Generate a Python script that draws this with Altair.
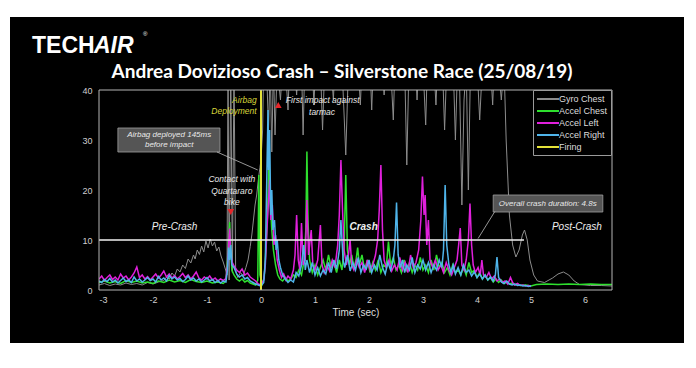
import altair as alt
import pandas as pd

# ---------------- data ----------------
GYRO_CHEST = [(-3.00,1.0),(-2.90,1.3),(-2.80,0.9),(-2.70,1.2),(-2.60,1.0),(-2.50,1.4),(-2.40,1.1),(-2.30,1.3),
    (-2.20,1.0),(-2.10,1.5),(-2.00,1.2),(-1.90,1.6),(-1.80,1.9),(-1.75,2.6),(-1.70,2.2),(-1.65,3.4),(-1.60,2.8),
    (-1.55,4.2),(-1.50,3.6),(-1.45,5.0),(-1.40,4.3),(-1.35,6.2),(-1.30,5.4),(-1.25,7.0),(-1.22,6.2),(-1.18,8.0),
    (-1.14,7.1),(-1.10,8.8),(-1.06,7.6),(-1.02,9.8),(-0.98,8.4),(-0.94,10.2),(-0.90,8.8),(-0.86,9.6),(-0.82,7.8),
    (-0.78,8.6),(-0.74,6.8),(-0.70,5.6),(-0.66,4.2),(-0.63,3.0),(-0.61,45),(-0.59,2.0),(-0.56,45),(-0.53,3.5),
    (-0.50,45),(-0.47,4.0),(-0.43,2.5),(-0.38,3.5),(-0.33,2.8),(-0.28,4.5),(-0.24,6.0),(-0.20,8.7),(-0.17,11),
    (-0.14,14),(-0.11,17),(-0.08,19),(-0.05,22),(-0.02,24.5),(0.00,26),(0.03,32),(0.05,45),(0.10,45),(0.14,32),
    (0.17,45),(0.20,27.6),(0.23,45),(0.26,31),(0.30,45),(0.36,38),(0.40,45),(0.45,45),(0.50,36),(0.53,45),
    (0.62,45),(0.66,39),(0.69,45),(0.75,45),(0.78,31),(0.81,45),(0.95,45),(0.98,37),(1.01,45),(1.10,45),
    (1.14,32),(1.18,45),(1.30,45),(1.34,38),(1.37,45),(1.50,45),(1.57,27),(1.62,45),(1.80,45),(1.84,37),
    (1.87,45),(2.02,45),(2.05,36),(2.08,45),(2.25,45),(2.28,39),(2.31,45),(2.40,45),(2.45,34),(2.48,45),
    (2.66,45),(2.70,25),(2.74,45),(2.86,45),(2.89,38),(2.92,45),(3.00,45),(3.05,33),(3.08,45),(3.20,45),
    (3.24,37),(3.27,45),(3.36,45),(3.40,32),(3.44,45),(3.56,45),(3.60,30),(3.64,45),(3.68,40),(3.72,17),
    (3.76,38),(3.80,45),(3.84,20),(3.88,45),(4.00,45),(4.05,34),(4.10,45),(4.25,45),(4.29,37),(4.32,45),
    (4.40,45),(4.45,38),(4.50,45),(4.54,30),(4.60,15),(4.66,9),(4.72,6.6),(4.78,8),(4.84,11),(4.88,12),
    (4.93,10),(4.98,6),(5.05,3),(5.12,1.8),(5.25,1.5),(5.40,2.4),(5.50,3.2),(5.60,3.6),(5.70,3.0),(5.80,1.8),
    (5.90,1.1),(6.10,0.9),(6.30,0.9),(6.50,0.8)]

ACCEL_CHEST = [(-3.00,1.5),(-2.90,1.8),(-2.80,1.4),(-2.70,1.7),(-2.60,1.3),(-2.50,1.9),(-2.40,1.5),(-2.30,1.8),
    (-2.20,1.4),(-2.10,1.6),(-2.00,1.3),(-1.90,1.8),(-1.80,1.5),(-1.70,2.0),(-1.60,1.6),(-1.50,1.9),(-1.40,1.5),
    (-1.30,2.1),(-1.20,1.7),(-1.10,1.5),(-1.00,1.8),(-0.90,1.4),(-0.80,1.6),(-0.70,1.3),(-0.65,1.8),(-0.62,6),
    (-0.60,10),(-0.58,13.6),(-0.56,8),(-0.54,4),(-0.50,3),(-0.45,2.2),(-0.40,1.8),(-0.35,2.2),(-0.30,1.6),
    (-0.25,1.9),(-0.20,1.4),(-0.15,1.2),(-0.10,1.0),(-0.06,2.0),(-0.04,23),(-0.02,3),(0.02,1.2),(0.06,2.5),
    (0.09,8),(0.12,15),(0.15,26.6),(0.17,18),(0.20,12),(0.23,8),(0.27,5),(0.31,3),(0.35,2.2),(0.40,1.8),
    (0.45,2.5),(0.50,1.8),(0.55,2.2),(0.60,3),(0.65,2.5),(0.70,4),(0.75,3),(0.80,6),(0.83,12),(0.85,27.7),
    (0.87,14),(0.90,6),(0.95,3.5),(1.00,5),(1.05,3),(1.10,4.5),(1.15,6),(1.20,4),(1.25,7),(1.30,4.5),(1.35,5.5),
    (1.40,3.5),(1.45,6),(1.50,4),(1.54,9),(1.57,23),(1.60,8),(1.64,5),(1.68,7),(1.72,4.5),(1.76,6),(1.79,8.5),
    (1.82,5),(1.87,7),(1.92,4),(1.97,6),(2.02,3.5),(2.07,5.5),(2.12,4),(2.17,6),(2.22,3.5),(2.27,5),(2.32,4.5),
    (2.36,9.7),(2.40,5),(2.45,6.5),(2.50,4),(2.55,5),(2.60,3.5),(2.65,6),(2.70,4),(2.75,5.5),(2.80,3.5),(2.85,5),
    (2.90,4),(2.95,6.5),(3.00,4),(3.05,5),(3.10,3.5),(3.15,6),(3.20,4),(3.25,7),(3.30,4.5),(3.35,5.5),(3.40,3.5),
    (3.45,4.5),(3.50,3),(3.55,5),(3.60,3.5),(3.65,4),(3.70,3),(3.75,4.5),(3.80,3),(3.85,5.5),(3.90,3.5),(3.95,4),
    (4.00,2.5),(4.05,3.5),(4.10,2.2),(4.15,3),(4.20,2),(4.25,2.5),(4.30,1.6),(4.35,2.2),(4.40,1.5),(4.45,2.0),
    (4.50,1.3),(4.55,1.6),(4.60,1.2),(4.65,1.4),(4.70,1.0),(4.75,1.2),(4.80,0.9),(4.90,1.0),(5.00,0.8),
    (5.10,1.1),(5.30,1.2),(5.50,1.1),(5.70,1.2),(5.90,1.1),(6.10,1.2),(6.30,1.1),(6.50,1.1)]

ACCEL_LEFT = [(-3.00,2.2),(-2.95,2.8),(-2.90,1.9),(-2.85,2.5),(-2.80,3.0),(-2.75,2.1),(-2.70,2.6),(-2.65,2.0),
    (-2.60,3.2),(-2.55,2.4),(-2.50,2.8),(-2.45,2.0),(-2.40,2.6),(-2.35,3.4),(-2.30,4.6),(-2.25,2.5),(-2.20,3.0),
    (-2.15,2.2),(-2.10,2.7),(-2.05,2.0),(-2.00,2.6),(-1.95,3.2),(-1.90,2.4),(-1.85,3.0),(-1.80,3.8),(-1.75,2.6),
    (-1.70,3.2),(-1.65,2.4),(-1.60,2.9),(-1.55,2.2),(-1.50,2.7),(-1.45,3.3),(-1.40,2.5),(-1.35,3.0),(-1.30,2.2),
    (-1.25,2.8),(-1.20,3.6),(-1.15,2.4),(-1.10,2.0),(-1.05,2.6),(-1.00,2.2),(-0.95,2.8),(-0.90,2.0),(-0.85,2.4),
    (-0.80,1.8),(-0.75,2.2),(-0.70,1.9),(-0.65,2.3),(-0.62,5),(-0.60,9),(-0.58,12.3),(-0.56,7),(-0.53,5.5),
    (-0.50,4.8),(-0.45,4.0),(-0.40,3.5),(-0.35,4.2),(-0.30,3.0),(-0.25,3.4),(-0.20,2.6),(-0.15,2.2),(-0.10,1.8),
    (-0.05,1.2),(0.00,1.0),(0.05,2.0),(0.08,5),(0.11,12),(0.14,18),(0.16,22),(0.18,14),(0.21,17),(0.24,9),
    (0.27,11),(0.30,6),(0.34,4),(0.38,2.5),(0.42,3.2),(0.46,2.0),(0.50,2.8),(0.55,2.2),(0.60,4),(0.63,7),
    (0.66,15),(0.69,6),(0.72,4),(0.75,13.4),(0.78,5),(0.82,6),(0.85,18),(0.88,7),(0.93,12),(0.96,5),(1.00,4),
    (1.05,6),(1.10,13),(1.13,5),(1.17,3.5),(1.22,5),(1.27,3.8),(1.32,6),(1.37,4.5),(1.42,9),(1.45,15),(1.48,26),
    (1.51,16),(1.54,8),(1.58,5),(1.62,7),(1.65,10),(1.68,5),(1.72,4),(1.77,6),(1.82,4.5),(1.87,5.5),(1.92,3.5),
    (1.97,6),(2.02,4),(2.07,5),(2.12,7),(2.16,10),(2.19,16),(2.22,25),(2.25,12),(2.28,6),(2.32,4.5),(2.37,6),
    (2.42,3.8),(2.47,5),(2.52,4),(2.57,6.5),(2.62,4),(2.67,5.5),(2.72,3.5),(2.77,7),(2.82,4.5),(2.87,5.5),
    (2.92,8),(2.96,14),(2.99,22.7),(3.02,15),(3.04,19),(3.07,9),(3.10,14),(3.13,6),(3.18,4.5),(3.23,6),(3.28,4),
    (3.33,5),(3.38,3.5),(3.43,5.5),(3.48,4),(3.53,3),(3.58,4.5),(3.63,6),(3.66,9),(3.69,12.4),(3.72,5),(3.76,4),
    (3.80,6),(3.84,10),(3.87,17.3),(3.90,9),(3.93,5),(3.97,3.5),(4.02,4.5),(4.06,3),(4.09,6),(4.12,3),(4.17,2.5),
    (4.22,3.5),(4.27,2.2),(4.32,2.8),(4.37,1.8),(4.42,2.2),(4.47,1.5),(4.52,1.8),(4.57,1.2),(4.62,2.5),(4.66,1.5),
    (4.70,1.0),(4.75,1.3),(4.80,0.9),(4.85,1.0),(4.90,0.8),(4.95,0.9),(5.00,0.7)]

ACCEL_RIGHT = [(-3.00,1.8),(-2.95,1.5),(-2.90,2.1),(-2.85,1.7),(-2.80,2.3),(-2.75,1.6),(-2.70,2.0),(-2.65,1.4),
    (-2.60,1.9),(-2.55,2.4),(-2.50,1.7),(-2.45,2.0),(-2.40,1.5),(-2.35,2.6),(-2.30,1.8),(-2.25,2.2),(-2.20,1.6),
    (-2.15,2.0),(-2.10,2.5),(-2.05,1.9),(-2.00,2.2),(-1.95,1.6),(-1.90,2.7),(-1.85,2.0),(-1.80,2.4),(-1.75,1.8),
    (-1.70,2.9),(-1.65,2.2),(-1.60,2.6),(-1.55,2.0),(-1.50,2.3),(-1.45,1.7),(-1.40,2.1),(-1.35,2.8),(-1.30,2.0),
    (-1.25,2.4),(-1.20,1.8),(-1.15,2.2),(-1.10,1.6),(-1.05,2.0),(-1.00,2.5),(-0.95,1.8),(-0.90,2.1),(-0.85,1.5),
    (-0.80,1.9),(-0.75,1.4),(-0.70,1.8),(-0.65,1.6),(-0.62,4.0),(-0.60,8.5),(-0.58,6.0),(-0.56,9.0),(-0.54,5.0),
    (-0.50,4.5),(-0.45,3.2),(-0.40,2.6),(-0.35,3.0),(-0.30,2.2),(-0.25,2.5),(-0.20,1.8),(-0.15,1.5),(-0.10,1.2),
    (-0.05,1.0),(0.00,0.8),(0.05,1.5),(0.08,6),(0.10,18),(0.12,30),(0.13,36),(0.14,24),(0.16,32),(0.18,15),
    (0.20,20),(0.22,12),(0.25,14),(0.28,8),(0.30,10),(0.33,6),(0.36,4.5),(0.40,3),(0.45,2.2),(0.50,1.5),
    (0.55,2.0),(0.60,1.6),(0.65,3.5),(0.70,2.8),(0.75,5),(0.79,9),(0.82,4),(0.85,6),(0.90,3.5),(0.95,5.5),
    (1.00,3),(1.05,4.5),(1.10,2.8),(1.15,4),(1.20,3.2),(1.25,5.5),(1.30,3.5),(1.35,6),(1.40,4.2),(1.45,8),
    (1.48,14),(1.52,6),(1.55,4.5),(1.60,7),(1.65,3.8),(1.70,5.5),(1.75,4),(1.80,6.5),(1.85,3.5),(1.90,5),
    (1.95,4.2),(2.00,6),(2.05,3.5),(2.10,5),(2.15,4),(2.20,7),(2.25,4.5),(2.30,3.2),(2.35,5.5),(2.40,4),(2.45,6),
    (2.48,9),(2.51,17.5),(2.54,7),(2.58,4.5),(2.62,6),(2.66,3.5),(2.70,5),(2.75,4),(2.80,6.5),(2.85,3.5),(2.90,5),
    (2.95,4.2),(3.00,6),(3.05,4),(3.10,5.5),(3.15,3.5),(3.20,5),(3.25,4),(3.30,6),(3.35,4.5),(3.38,8),(3.41,21),
    (3.44,9),(3.48,5),(3.52,3.5),(3.56,5),(3.60,3.2),(3.65,4.5),(3.70,3),(3.75,5),(3.80,3.5),(3.85,4),(3.90,2.8),
    (3.95,3.6),(4.00,2.5),(4.05,3.2),(4.10,2.2),(4.15,3),(4.20,2),(4.25,2.6),(4.30,1.8),(4.34,3),(4.37,6.6),
    (4.40,2.5),(4.45,1.6),(4.50,1.3),(4.55,1.8),(4.60,1.2),(4.65,1.0),(4.70,1.2),(4.75,0.9),(4.80,1.0),
    (4.85,0.8),(4.90,0.9),(4.95,0.7),(5.00,0.8)]

FIRING = [(0.0, 0.0), (0.0, 40.0)]

SERIES = ["Gyro Chest", "Accel Chest", "Accel Left", "Accel Right", "Firing"]
COLORS = ["#8c8c8c", "#2ee02e", "#e020dc", "#4fb4ea", "#e4e23a"]
WIDTHS = [1.0, 1.5, 1.5, 1.5, 2.0]
SERIES_DATA = [GYRO_CHEST, ACCEL_CHEST, ACCEL_LEFT, ACCEL_RIGHT, FIRING]

X_TICKS = [-3, -2, -1, 0, 1, 2, 3, 4, 5, 6]
Y_TICKS = [0, 5, 10, 15, 20, 25, 30, 35, 40]

PHASE_LINE = {"t": -3.0, "t2": 4.87, "v": 10.0}
PHASES = [("Pre-Crash", -1.6, 11.7, "normal"), ("Crash", 1.9, 11.7, "bold"), ("Post-Crash", 5.85, 11.7, "normal")]

W, H = 513, 200
FONT = "Liberation Sans"

rows = []
for name, pts in zip(SERIES, SERIES_DATA):
    for i, (t, v) in enumerate(pts):
        rows.append({"series": name, "t": t, "v": v, "idx": i})
df = pd.DataFrame(rows)
dummy = pd.DataFrame({"a": [0]})

xs = alt.Scale(domain=[-3, 6.5], nice=False, zero=False)
ys = alt.Scale(domain=[0, 40], nice=False)
cs = alt.Scale(domain=SERIES, range=COLORS)

x_axis = alt.Axis(values=X_TICKS, title="Time (sec)", labelExpr="datum.value + ''", grid=False,
                  domain=False, ticks=False, labelPadding=5, labelColor="#cfcfcf", labelFontSize=9,
                  labelFont=FONT, titleFont=FONT, titleFontSize=10, titleFontWeight="normal",
                  titleColor="#dddddd", titlePadding=3, zindex=1)
y_axis = alt.Axis(values=Y_TICKS, title=None, grid=False, domain=False, ticks=False, labelPadding=7,
                  labelColor="#cfcfcf", labelFontSize=9, labelFont=FONT, zindex=1)
legend = alt.Legend(title=None, orient="none", legendX=434, legendY=0, fillColor="black",
                    strokeColor="#9a9a9a", padding=3, labelColor="#dddddd", labelFontSize=9,
                    labelFont=FONT, symbolType="M-2.2,0H2.2", symbolStrokeWidth=2, symbolSize=100,
                    rowPadding=1, labelOffset=5, symbolOffset=6, labelLimit=60)

panel = alt.Chart(dummy).mark_rect(color="black").encode(
    x=alt.value(-89), x2=alt.value(W + 72), y=alt.value(-73), y2=alt.value(H + 53))

layers = [panel]
for name, w in zip(SERIES, WIDTHS):
    layers.append(
        alt.Chart(df[df.series == name]).mark_line(clip=True, strokeWidth=w).encode(
            x=alt.X("t:Q", scale=xs, axis=x_axis),
            y=alt.Y("v:Q", scale=ys, axis=y_axis),
            color=alt.Color("series:N", scale=cs, legend=legend),
            order="idx:Q",
        )
    )

phase_line = alt.Chart(pd.DataFrame([PHASE_LINE])).mark_rule(color="#f2f2f2", strokeWidth=1.5).encode(
    x="t:Q", x2="t2:Q", y="v:Q")
layers.append(phase_line)

for txt, t, v, wt in PHASES:
    layers.append(alt.Chart(pd.DataFrame([{"t": t, "v": v, "s": txt}])).mark_text(
        font=FONT, fontSize=10, fontStyle="italic", fontWeight=wt, color="#f0f0f0", baseline="bottom"
    ).encode(x="t:Q", y="v:Q", text="s:N"))

# annotation boxes and connectors
boxes = pd.DataFrame([
    {"t": -2.65, "t2": -0.76, "v": 32.4, "v2": 27.6},
    {"t": 4.30, "t2": 6.33, "v": 19.0, "v2": 15.6},
])
layers.append(alt.Chart(boxes).mark_rect(fill="#555555", stroke="#a0a0a0", strokeWidth=0.8).encode(
    x="t:Q", x2="t2:Q", y="v:Q", y2="v2:Q"))
connectors = pd.DataFrame([
    {"t": -0.815, "t2": -0.06, "v": 27.6, "v2": 24.0},
    {"t": 4.33, "t2": 4.02, "v": 15.7, "v2": 10.3},
])
layers.append(alt.Chart(connectors).mark_rule(color="#bbbbbb", strokeWidth=0.8).encode(
    x="t:Q", x2="t2:Q", y="v:Q", y2="v2:Q"))

notes_white = pd.DataFrame([
    {"t": -1.70, "v": 31.0, "s": "Airbag deployed 145ms"},
    {"t": -1.70, "v": 29.0, "s": "before impact"},
    {"t": 5.31, "v": 17.3, "s": "Overall crash duration: 4.8s"},
])
layers.append(alt.Chart(notes_white).mark_text(font=FONT, fontSize=8, fontStyle="italic",
                                               color="#e8e8e8", baseline="middle").encode(
    x="t:Q", y="v:Q", text="s:N"))

notes_big = pd.DataFrame([
    {"t": 0.46, "v": 38.0, "s": "First impact against"},
    {"t": 1.13, "v": 35.6, "s": "tarmac"},
    {"t": -0.54, "v": 22.2, "s": "Contact with"},
    {"t": -0.54, "v": 19.9, "s": "Quartararo"},
    {"t": -0.54, "v": 17.6, "s": "bike"},
])
layers.append(alt.Chart(notes_big.iloc[[0]]).mark_text(font=FONT, fontSize=8.5, fontStyle="italic",
                                                      color="#e8e8e8", align="left", baseline="middle").encode(
    x="t:Q", y="v:Q", text="s:N"))
layers.append(alt.Chart(notes_big.iloc[1:]).mark_text(font=FONT, fontSize=8.5, fontStyle="italic",
                                                     color="#e8e8e8", align="center", baseline="middle").encode(
    x="t:Q", y="v:Q", text="s:N"))

notes_yellow = pd.DataFrame([
    {"t": -0.08, "v": 38.0, "s": "Airbag"},
    {"t": -0.08, "v": 35.8, "s": "Deployment"},
])
layers.append(alt.Chart(notes_yellow).mark_text(font=FONT, fontSize=8.5, fontStyle="italic",
                                                color="#d8d63a", align="right", baseline="middle").encode(
    x="t:Q", y="v:Q", text="s:N"))

markers = pd.DataFrame([
    {"t": -0.56, "v": 15.6, "shape": "triangle-down"},
    {"t": 0.32, "v": 37.0, "shape": "triangle-up"},
])
layers.append(alt.Chart(markers).mark_point(filled=True, color="#e8262a", size=45, opacity=1).encode(
    x="t:Q", y="v:Q", shape=alt.Shape("shape:N", scale=None, legend=None)))

frame = alt.Chart(dummy).mark_rect(filled=False, stroke="#b5b5b5", strokeWidth=1).encode(
    x=alt.value(0), x2=alt.value(W), y=alt.value(0), y2=alt.value(H))
layers.append(frame)

title = alt.Chart(dummy).mark_text(text="Andrea Dovizioso Crash \u2013 Silverstone Race (25/08/19)",
                                   font="Lato", fontSize=19, fontWeight="bold", color="white",
                                   align="center", baseline="middle").encode(
    x=alt.value(243), y=alt.value(-18))
logo1 = alt.Chart(dummy).mark_text(text="TECH", font="Liberation Sans", fontSize=23, fontWeight="bold",
                                   color="white", align="left", baseline="alphabetic").encode(
    x=alt.value(-67), y=alt.value(-37))
logo2 = alt.Chart(dummy).mark_text(text="AIR", font="Liberation Sans", fontSize=23, fontWeight="bold",
                                   fontStyle="italic", color="white", align="left", baseline="alphabetic").encode(
    x=alt.value(-5), y=alt.value(-37))
logo3 = alt.Chart(dummy).mark_text(text="\u00ae", font="Liberation Sans", fontSize=6,
                                   color="white", align="left", baseline="alphabetic").encode(
    x=alt.value(44), y=alt.value(-54))
layers += [title, logo1, logo2, logo3]

chart = alt.layer(*layers).properties(
    width=W, height=H,
    padding={"left": 2, "top": 9, "right": 2, "bottom": 2},
    background="white",
).configure_view(stroke=None)

chart.save("out.html", embed_options={"renderer": "svg", "actions": False})
